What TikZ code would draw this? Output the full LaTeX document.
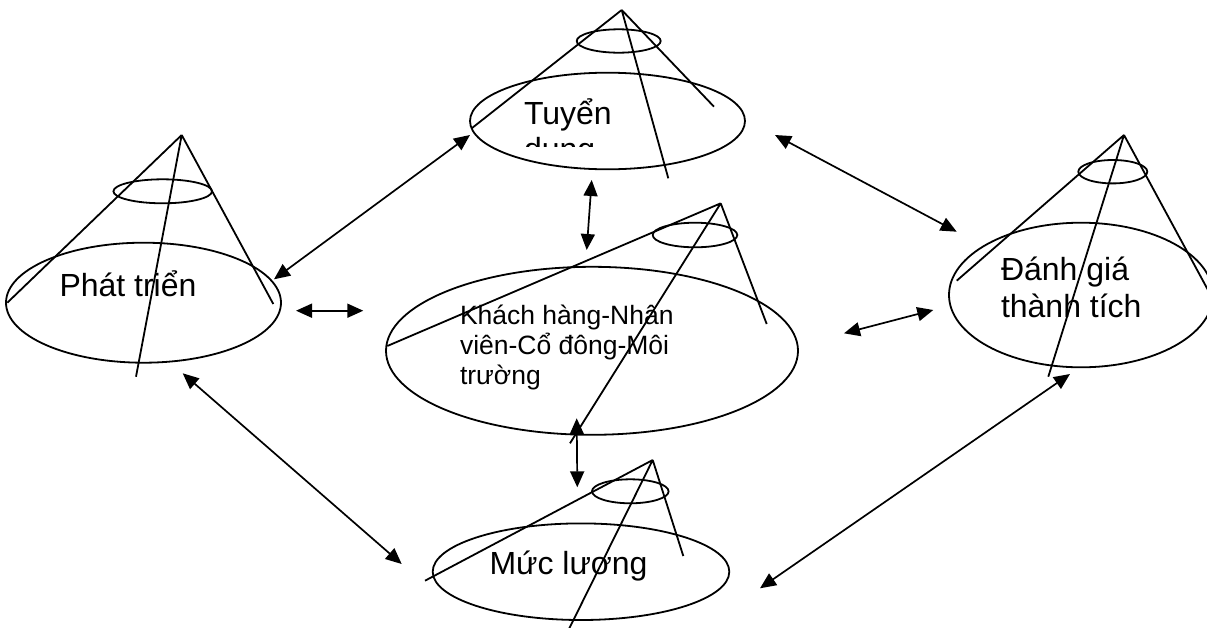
\documentclass[tikz,border=0pt]{standalone}
\usepackage{fontspec}
\setmainfont{Liberation Sans}
\usetikzlibrary{arrows.meta,shapes.geometric}
\begin{document}
\begin{tikzpicture}[x=1pt,y=-1pt,
  ell/.style={ellipse, draw, line width=1.8pt, inner sep=0pt, outer sep=0pt},
  rib/.style={line width=1.8pt},
  lbl/.style={font=\fontsize{32pt}{36.6pt}\selectfont, inner sep=0pt, outer sep=0pt, align=left, anchor=base west},
  lbls/.style={font=\fontsize{26.5pt}{30pt}\selectfont, inner sep=0pt, outer sep=0pt, align=left, anchor=base west},
  arr/.style={{Triangle[length=16pt,width=14pt]}-{Triangle[length=16pt,width=14pt]}, line width=1.7pt}]
\clip (0,0) rectangle (1207,627);
\fill[white] (0,0) rectangle (1207,627);

% ---------- Tuyen dung (top) ----------
\node[ell, minimum width=275pt, minimum height=96.6pt] (Tbig) at (607.5,121) {};
\node[ell, minimum width=84pt, minimum height=23.4pt] (Tsmall) at (618.7,41) {};
\coordinate (Tapex) at (621.7,10);
\coordinate (Tl) at (471.7,128.3);
\coordinate (Tm) at (668.3,178.3);
\coordinate (Tr) at (714,106.7);
\draw[rib] (Tapex) -- (Tl) (Tapex) -- (Tm) (Tapex) -- (Tr);
\begin{scope}
\clip (480,80) rectangle (700,146.7);
\node[lbl] (tT) at (524,160.6) {Tuyển\\dung};
\end{scope}

% ---------- Phat trien (left) ----------
\node[ell, minimum width=275pt, minimum height=120pt] (Pbig) at (143.5,302.7) {};
\node[ell, minimum width=98.6pt, minimum height=24pt] (Psmall) at (162.7,191.3) {};
\coordinate (Papex) at (181.7,135);
\coordinate (Pl) at (7.3,302.7);
\coordinate (Pm) at (136,376.7);
\coordinate (Pr) at (273.3,304);
\draw[rib] (Papex) -- (Pl) (Papex) -- (Pm) (Papex) -- (Pr);
\node[lbl] (tP) at (59.5,296.7) {Phát triển};

% ---------- Khach hang (centre) ----------
\node[ell, minimum width=412pt, minimum height=168pt] (Kbig) at (592,350.8) {};
\node[ell, minimum width=84.6pt, minimum height=24.6pt] (Ksmall) at (695,235) {};
\coordinate (Kapex) at (720.7,203.3);
\coordinate (Kl) at (387.3,346);
\coordinate (Km) at (570,443.3);
\coordinate (Kr) at (766.7,324);
\draw[rib] (Kapex) -- (Kl) (Kapex) -- (Km) (Kapex) -- (Kr);
\node[lbls] (tK) at (460,384) {Khách hàng-Nhân\\viên-Cổ đông-Môi\\trường};

% ---------- Muc luong (bottom) ----------
\node[ell, minimum width=296.6pt, minimum height=96.6pt] (Mbig) at (581,571.7) {};
\node[ell, minimum width=76.6pt, minimum height=24pt] (Msmall) at (630.3,491.3) {};
\coordinate (Mapex) at (652.7,460);
\coordinate (Ml) at (425,580.7);
\coordinate (Mm) at (567,633);
\coordinate (Mr) at (683.3,556);
\draw[rib] (Mapex) -- (Ml) (Mapex) -- (Mm) (Mapex) -- (Mr);
\node[lbl] (tM) at (489.5,574) {Mức lương};

% ---------- Danh gia (right) ----------
\node[ell, minimum width=264pt, minimum height=144.6pt] (Dbig) at (1081,295) {};
\node[ell, minimum width=69pt, minimum height=23.4pt] (Dsmall) at (1112.8,171.7) {};
\coordinate (Dapex) at (1124,135);
\coordinate (Dl) at (956.7,280.7);
\coordinate (Dm) at (1048.3,376.7);
\coordinate (Dr) at (1215,303);
\draw[rib] (Dapex) -- (Dl) (Dapex) -- (Dm) (Dapex) -- (Dr);
\node[lbl] (tD) at (1001,317.3) {Đánh giá\\thành tích};

% ---------- arrows ----------
\coordinate (a1) at (274,279.3);   \coordinate (b1) at (470,135);
\coordinate (a2) at (591.7,180);   \coordinate (b2) at (586.7,250);
\coordinate (a3) at (775,135);     \coordinate (b3) at (956.7,231.7);
\coordinate (a4) at (296,310.7);   \coordinate (b4) at (363.3,310.7);
\coordinate (a5) at (844,333.3);   \coordinate (b5) at (933.3,310);
\coordinate (a6) at (576.7,418.3); \coordinate (b6) at (577.3,487.3);
\coordinate (a7) at (182.7,373.3); \coordinate (b7) at (401.7,564);
\coordinate (a8) at (760,588.3);   \coordinate (b8) at (1070,374);
\draw[arr] (a1) -- (b1);
\draw[arr] (a2) -- (b2);
\draw[arr] (a3) -- (b3);
\draw[arr] (a4) -- (b4);
\draw[arr] (a5) -- (b5);
\draw[arr] (a6) -- (b6);
\draw[arr] (a7) -- (b7);
\draw[arr] (a8) -- (b8);
\end{tikzpicture}
\end{document}
